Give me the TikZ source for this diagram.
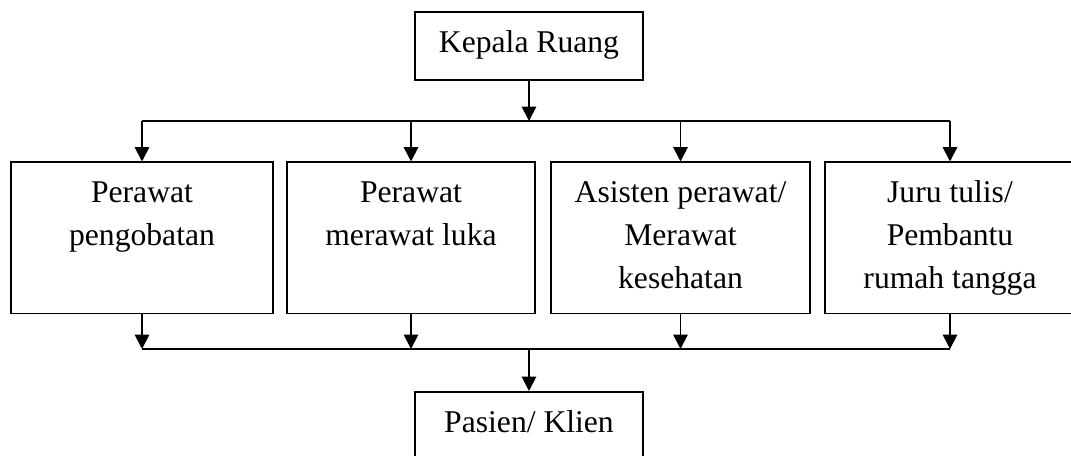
\documentclass[tikz,border=0pt]{standalone}
\usepackage{fontspec}
\setmainfont{Liberation Serif}
\usetikzlibrary{arrows.meta,positioning,calc}
\newcommand{\roletext}[1]{\begin{tabular}[t]{@{}c@{}}#1\end{tabular}}

\begin{document}
\begin{tikzpicture}[x=1cm,y=1cm,font=\fontsize{27}{36.7}\selectfont,
  flow/.style={-{Triangle[length=4.3mm,width=4.3mm]},draw=black,line width=1.6pt},
  bus/.style={draw=black,line width=1.6pt},
  unit/.style={draw=black,line width=1.6pt,anchor=north,
    inner xsep=0pt,inner ysep=0pt,text height=1.2cm,text depth=3.33cm},
  head/.style={unit,text height=1.23cm,text depth=0.81cm,minimum width=6.84cm}]
\useasboundingbox (0,0) rectangle (32.13,13.65);

% Head of the ward, the four roles below it, and the patient at the end.
\node[head] (kepala) at (15.87,13.32) {Kepala Ruang};
\node[unit,minimum width=7.86cm] (b1) at (4.26,8.805) {\roletext{Perawat\\pengobatan}};
\node[unit,minimum width=7.44cm] (b2) at (12.33,8.805) {\roletext{Perawat\\merawat luka}};
\node[unit,minimum width=7.77cm] (b3) at (20.415,8.805) {\roletext{Asisten perawat/\\Merawat\\kesehatan}};
\node[unit,minimum width=7.5cm] (b4) at (28.5,8.805) {\roletext{Juru tulis/\\Pembantu\\rumah tangga}};
\node[head] (pasien) at (15.87,1.92) {Pasien/ Klien};

\coordinate (bustop) at (15.87,10.02);
\coordinate (busbot) at (15.87,3.18);

\draw[flow] (kepala.south) -- (bustop);
\draw[bus] (b1 |- bustop) -- (b4 |- bustop);
\foreach \b in {b1,b2,b3,b4}
  \draw[flow] (\b |- bustop) -- (\b.north);

\foreach \b in {b1,b2,b3,b4}
  \draw[flow] (\b.south) -- (\b |- busbot);
\draw[bus] (b1 |- busbot) -- (b4 |- busbot);
\draw[flow] (busbot) -- (pasien.north);
\end{tikzpicture}
\end{document}
